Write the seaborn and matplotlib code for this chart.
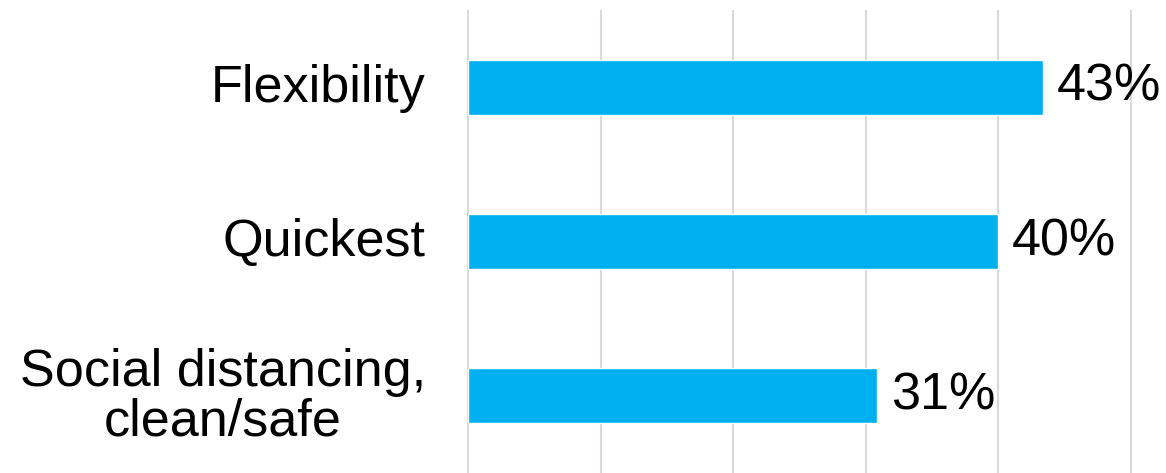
import matplotlib
matplotlib.use("Agg")
import matplotlib.pyplot as plt
import matplotlib.transforms as mtransforms
import seaborn as sns
import pandas as pd

categories = ["Flexibility", "Quickest", "Social distancing,\nclean/safe"]
shares = [43.4, 40.0, 30.9]
value_labels = ["43%", "40%", "31%"]

sns.set_theme(style="white")
plt.rcParams['font.family'] = ['Liberation Sans', 'DejaVu Sans']

df = pd.DataFrame({"reason": categories, "share": shares})

fig = plt.figure(figsize=(11.66, 4.73), dpi=100)
px_per_unit = 13.25
x0, x1 = -0.15, 50.15
left_px = 468 - 0.15 * px_per_unit
width_px = (x1 - x0) * px_per_unit
ax = fig.add_axes([left_px / 1166, 0, width_px / 1166, 463 / 473])

sns.barplot(data=df, x="share", y="reason", orient="h", color="#00B0F0",
            saturation=1, width=0.355, ax=ax)

ax.set_xlim(x0, x1)
ax.set_ylim(2.5, -0.5)
ax.set_xticks([0, 10, 20, 30, 40, 50])
ax.set_xticklabels([])
ax.grid(axis="x", color="#d9d9d9", linewidth=1.5)
ax.grid(axis="y", visible=False)
ax.set_axisbelow(True)
for s in ax.spines.values():
    s.set_visible(False)
ax.tick_params(axis="both", length=0)
ax.tick_params(axis="y", pad=29, labelsize=37.5, labelcolor="black")

# nudge category labels up a little, like the original
shift = mtransforms.ScaledTranslation(0, 4 / 100, fig.dpi_scale_trans)
for t in ax.get_yticklabels():
    t.set_multialignment("center")
    t.set_linespacing(1.0)
    t.set_transform(t.get_transform() + shift)
ax.set_xlabel("")
ax.set_ylabel("")

for bar_container in ax.containers:
    ax.bar_label(bar_container, labels=value_labels, padding=10,
                 fontsize=37.5, color="black")

fig.savefig("out.png", dpi=100)
